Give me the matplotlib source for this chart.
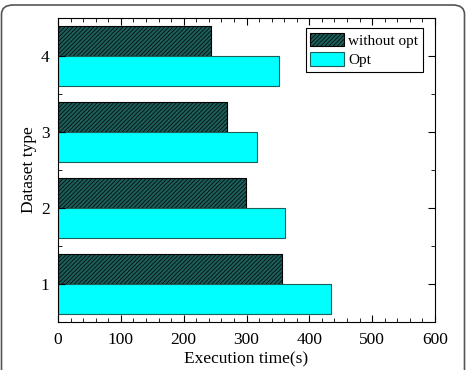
import matplotlib
matplotlib.use('Agg')
import matplotlib.pyplot as plt
from matplotlib.patches import FancyBboxPatch
import numpy as np

datasets = [1, 2, 3, 4]
without_opt = [357, 299, 269, 244]
opt = [435, 362, 317, 351]

plt.rcParams['font.family'] = 'Liberation Serif'
plt.rcParams['font.size'] = 12.5
plt.rcParams['hatch.color'] = 'black'
plt.rcParams['hatch.linewidth'] = 0.5

fig = plt.figure(figsize=(4.67, 3.70), dpi=100)
ax = fig.add_axes([58 / 467, 48 / 370, 377 / 467, 304 / 370])

# rounded frame around the whole picture (bottom edge runs off the image)
frame = FancyBboxPatch((1.5 / 467, -40 / 370), 463 / 467, 405 / 370,
                       boxstyle='round,pad=0,rounding_size=0.025',
                       transform=fig.transFigure, fill=False,
                       edgecolor='#555555', linewidth=1.2, clip_on=False)
fig.patches.append(frame)

y = np.array(datasets)
h = 0.4
ax.barh(y + h / 2, without_opt, height=h, color='#1b5e5a', edgecolor='black',
        hatch='////////', linewidth=0.8, label='without opt')
ax.barh(y - h / 2, opt, height=h, color='#00ffff', edgecolor='#1b5e5a',
        linewidth=0.8, label='Opt')

ax.set_xlim(0, 600)
ax.set_ylim(0.5, 4.5)
ax.set_xticks(range(0, 601, 100))
ax.set_xticks(range(0, 601, 20), minor=True)
ax.set_yticks(datasets)
ax.set_yticks([1.5, 2.5, 3.5], minor=True)
ax.tick_params(which='both', direction='in', top=True, right=True)
ax.tick_params(which='major', length=5)
ax.tick_params(which='minor', length=3)
ax.tick_params(axis='x', pad=7)
ax.tick_params(axis='y', pad=6)

ax.set_xlabel('Execution time(s)', labelpad=3)
ax.set_ylabel('Dataset type', labelpad=3)

leg = ax.legend(loc='upper right', fancybox=False, edgecolor='black',
                framealpha=1, fontsize=11, handlelength=2.2, handleheight=1.0,
                handletextpad=0.3, borderpad=0.3, labelspacing=0.3,
                borderaxespad=0, bbox_to_anchor=(0.968, 0.967))
leg.get_frame().set_linewidth(0.8)

fig.savefig('out.png')
